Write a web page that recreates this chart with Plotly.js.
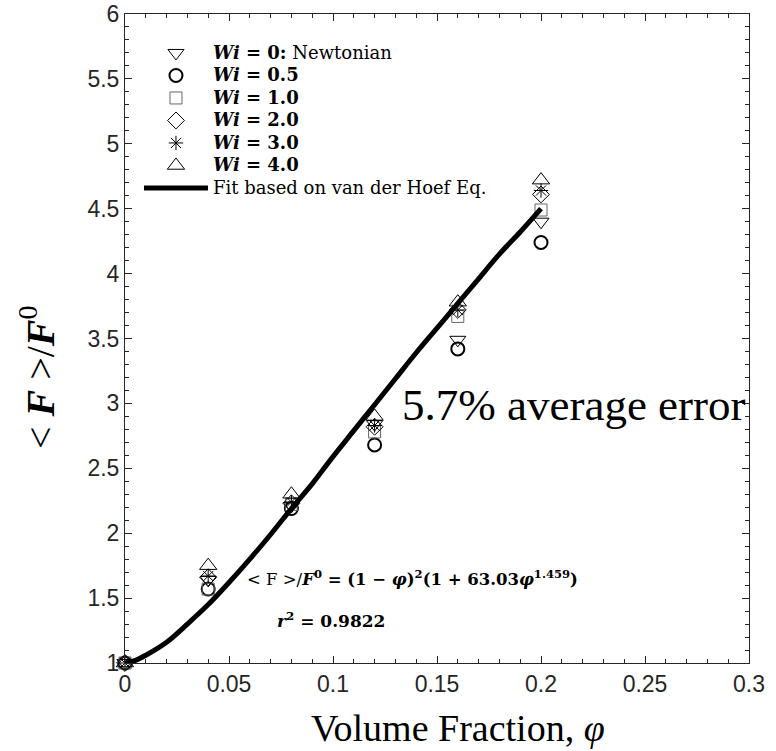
<!DOCTYPE html>
<html><head><meta charset="utf-8">
<script src="https://cdn.plot.ly/plotly-3.0.1.min.js"></script>
<style>body{margin:0;background:#fff}#chart{width:776px;height:751px}</style>
</head><body><div id="chart"></div>
<script>
// Data
const phi = [0, 0.04, 0.08, 0.12, 0.16, 0.2];
const wi0 = [1.0, 1.64, 2.21, 2.84, 3.49, 4.40];
const wi05 = [1.0, 1.57, 2.19, 2.68, 3.42, 4.24];
const wi10 = [1.0, 1.57, 2.22, 2.78, 3.67, 4.49];
const wi20 = [1.0, 1.66, 2.23, 2.82, 3.72, 4.61];
const wi30 = [1.0, 1.67, 2.24, 2.83, 3.72, 4.64];
const wi40 = [1.0, 1.75, 2.30, 2.90, 3.78, 4.72];
const fitPhi = [0, 0.005, 0.01, 0.02, 0.03, 0.04, 0.05, 0.06, 0.07, 0.08, 0.09, 0.10, 0.11, 0.12, 0.13, 0.14, 0.15, 0.16, 0.17, 0.18, 0.19, 0.20];
const fitVal = [1.00, 1.02, 1.06, 1.16, 1.30, 1.45, 1.62, 1.80, 1.99, 2.19, 2.38, 2.59, 2.79, 2.99, 3.19, 3.39, 3.58, 3.77, 3.96, 4.15, 4.32, 4.50];
const seriesNames = ['<b><i>Wi</i> = 0:</b> Newtonian', '<b><i>Wi</i> = 0.5</b>', '<b><i>Wi</i> = 1.0</b>', '<b><i>Wi</i> = 2.0</b>', '<b><i>Wi</i> = 3.0</b>', '<b><i>Wi</i> = 4.0</b>'];
const fitName = 'Fit based on van der Hoef Eq.';
const xTicks = [0, 0.05, 0.1, 0.15, 0.2, 0.25, 0.3];
const xTickText = ['0', '0.05', '0.1', '0.15', '0.2', '0.25', '0.3'];
const yTicks = [1, 1.5, 2, 2.5, 3, 3.5, 4, 4.5, 5, 5.5, 6];
const yTickText = ['1', '1.5', '2', '2.5', '3', '3.5', '4', '4.5', '5', '5.5', '6'];

const seriesY = [wi0, wi05, wi10, wi20, wi30, wi40];
const symbols = ['triangle-down-open', 'circle-open', 'square-open', 'diamond-open', 'asterisk-open', 'triangle-up-open'];
const sizes = [14, 13, 12, 13, 12, 15];
const lineCols = ['#000', '#000', '#666', '#000', '#000', '#000'];
const lineWs = [1, 2, 1, 1, 1, 1];
const big = s => '<span style="font-size:18px">' + s + '</span>';

const traces = seriesY.map((ys, i) => ({
  x: phi, y: ys, type: 'scatter', mode: 'markers', name: big(seriesNames[i]), cliponaxis: false,
  marker: {symbol: symbols[i], size: sizes[i], color: lineCols[i], line: {color: lineCols[i], width: lineWs[i]}}
}));
traces.push({x: fitPhi, y: fitVal, type: 'scatter', mode: 'lines', name: big(fitName), cliponaxis: false,
  line: {color: '#000', width: 5, shape: 'spline'}});

const axCol = '#262626';
const serif = 'Liberation Serif, DejaVu Serif, serif';
const wideSerif = 'DejaVu Serif, serif';
const layout = {
  width: 776, height: 751,
  margin: {l: 125, r: 27, t: 14, b: 88},
  paper_bgcolor: '#fff', plot_bgcolor: '#fff',
  showlegend: true,
  legend: {x: 0.0224, y: 0.965, xanchor: 'left', yanchor: 'top', bgcolor: 'rgba(0,0,0,0)', itemwidth: 64,
    font: {family: wideSerif, size: 15, color: '#000'}, tracegroupgap: 0},
  xaxis: {range: [0, 0.3], tickvals: xTicks, ticktext: xTickText, ticks: 'inside', ticklen: 7, tickcolor: axCol,
    showline: true, linecolor: axCol, linewidth: 1, mirror: 'ticks', showgrid: false, zeroline: false,
    tickfont: {family: 'Liberation Sans, Arial, sans-serif', size: 23, color: axCol},
    minor: {dtick: 0.01, ticks: 'inside', ticklen: 4, tickcolor: axCol, showgrid: false},
    title: {text: ''}},
  yaxis: {range: [1, 6], tickvals: yTicks, ticktext: yTickText, ticks: 'inside', ticklen: 7, tickcolor: axCol,
    showline: true, linecolor: axCol, linewidth: 1, mirror: 'ticks', showgrid: false, zeroline: false,
    tickfont: {family: 'Liberation Sans, Arial, sans-serif', size: 23, color: axCol},
    minor: {dtick: 0.1, ticks: 'inside', ticklen: 4, tickcolor: axCol, showgrid: false},
    title: {text: ''}},
  annotations: [
    {xref: 'paper', yref: 'paper', x: 0.534, y: -0.1, text: 'Volume Fraction, <i>φ</i>',
      showarrow: false, font: {family: serif, size: 38, color: '#000'}, xanchor: 'center', yanchor: 'middle'},
    {xref: 'paper', yref: 'paper', x: -0.14, y: 0.44, text: '&lt;&nbsp;<b><i>F</i></b>&nbsp;&gt;/<b><i>F</i></b><sup>0</sup>', textangle: -90,
      showarrow: false, font: {family: serif, size: 40, color: '#000'}, xanchor: 'center', yanchor: 'middle'},
    {x: 0.1322, y: 2.99, text: '5.7% average error', showarrow: false, xanchor: 'left', yanchor: 'middle',
      font: {family: serif, size: 45, color: '#000'}},
    {x: 0.0577, y: 1.655, text: '&lt; F &gt;/<b><i>F</i><sup>0</sup> = (1 − <i>φ</i>)<sup>2</sup>(1 + 63.03<i>φ</i><sup>1.459</sup>)</b>', showarrow: false,
      xanchor: 'left', yanchor: 'middle', font: {family: wideSerif, size: 16.5, color: '#000'}},
    {x: 0.0721, y: 1.33, text: '<b><i>r</i><sup>2</sup> = 0.9822</b>', showarrow: false,
      xanchor: 'left', yanchor: 'middle', font: {family: wideSerif, size: 17, color: '#000'}}
  ]
};
Plotly.newPlot('chart', traces, layout, {displayModeBar: false, staticPlot: true});
</script></body></html>
